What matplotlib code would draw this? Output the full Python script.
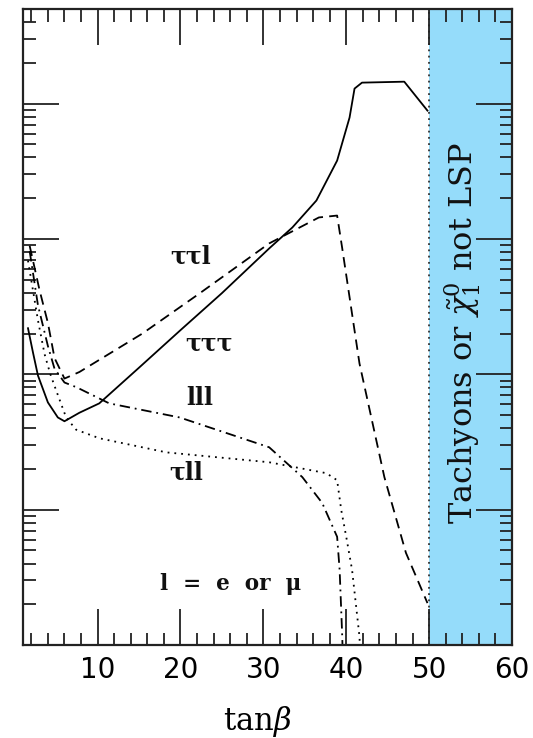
import matplotlib
matplotlib.use("Agg")
import matplotlib.pyplot as plt
from matplotlib.ticker import MultipleLocator, LogLocator, NullFormatter
import numpy as np

plt.rcParams['lines.scale_dashes'] = False
plt.rcParams['mathtext.fontset'] = 'dejavuserif'

# ---- data (tan beta, rate) ----
x_ttt = [1.6, 2.2, 2.8, 4.0, 5.2, 6.0, 7.8, 10.2, 15, 20, 25, 30.7, 33.5, 36.4, 38.9, 40.4, 41.0, 41.9, 47.0, 49.8]
y_ttt = [219, 145, 98, 62, 48, 45, 52, 61, 112, 212, 398, 851, 1216, 1923, 3793, 7889, 12912, 14289, 14521, 8872]

x_ttl = [1.8, 3.0, 4.0, 4.8, 6.0, 7.8, 15.4, 22.3, 30.7, 36.7, 38.9, 39.5, 41.6, 44.6, 47.2, 49.8]
y_ttl = [891, 417, 240, 132, 93, 104, 200, 396, 927, 1442, 1489, 865, 120, 17.4, 4.8, 2.04]

x_lll = [1.8, 2.8, 4.0, 4.8, 6.0, 7.5, 11.4, 19.9, 30.7, 34.7, 37.1, 38.9, 39.2, 39.5, 39.6]
y_lll = [813, 324, 162, 110, 87, 80, 61, 48, 28.9, 17.4, 11.2, 6.3, 3.6, 1.23, 0.79]

x_tll = [1.6, 2.8, 3.6, 4.3, 5.0, 6.2, 7.4, 10.2, 18.3, 30.7, 37.6, 38.9, 39.4, 40.0, 40.7, 41.6, 41.7]
y_tll = [692, 251, 141, 100, 76, 48, 39, 33.7, 26.5, 22.4, 18.6, 16.5, 9.9, 6.3, 3.6, 1.15, 0.79]

x_ticks = [10, 20, 30, 40, 50, 60]
excluded_x = [50, 60]

fig = plt.figure(figsize=(5.33, 7.38), dpi=100)
ax = fig.add_axes([0.0432, 0.126, 0.9174, 0.8618])

ax.axvspan(excluded_x[0], excluded_x[1], color='#95DCFA', zorder=0, lw=0)
ax.axvline(excluded_x[0], color='#333333', lw=1.3, ls=(0, (1.3, 3.2)), zorder=1)

lw = 1.3
ax.plot(x_ttt, y_ttt, color='black', lw=lw, ls='-')
ax.plot(x_ttl, y_ttl, color='black', lw=lw, ls=(0, (7.5, 4.5)))
ax.plot(x_lll, y_lll, color='black', lw=lw, ls=(0, (7.5, 3.5, 1.3, 3.5)))
ax.plot(x_tll, y_tll, color='black', lw=lw, ls=(0, (1.3, 3.6)))

ax.set_yscale('log')
ax.set_xlim(1, 60)
ax.set_ylim(1, 5e4)

ax.xaxis.set_major_locator(MultipleLocator(10))
ax.xaxis.set_minor_locator(MultipleLocator(2))
ax.set_xticks(x_ticks)
ax.yaxis.set_major_locator(LogLocator(base=10, numticks=20))
ax.yaxis.set_minor_locator(LogLocator(base=10, subs=np.arange(2, 10), numticks=20))
ax.yaxis.set_major_formatter(NullFormatter())
ax.yaxis.set_minor_formatter(NullFormatter())

ax.tick_params(which='both', direction='in', top=True, right=True, width=1.3, color='#222222')
ax.tick_params(which='major', length=26, labelsize=20, pad=8)
ax.tick_params(which='minor', length=9)
for lab in ax.get_xticklabels():
    lab.set_family('DejaVu Sans')
for sp in ax.spines.values():
    sp.set_linewidth(1.6)
    sp.set_color('#222222')

ax.set_xlabel(r'tan$\beta$', fontsize=22, family='DejaVu Serif')
ax.xaxis.set_label_coords(0.48, -0.092)

lab_kw = dict(family='DejaVu Serif', fontweight='bold', fontsize=17, ha='center', va='baseline', color='#111111')
ax.text(21.2, 10**2.819, 'ττl', **lab_kw)
ax.text(23.5, 10**2.177, 'τττ', **lab_kw)
ax.text(22.3, 10**1.771, 'lll', **lab_kw)
ax.text(20.7, 10**1.225, 'τll', **lab_kw)
ax.text(26.0, 10**0.406, 'l  =  e  or  μ', family='DejaVu Serif', fontweight='bold', fontsize=15.5,
        ha='center', va='baseline', color='#111111')

ax.text(54.0, 10**2.303, r'Tachyons or $\tilde{\chi}_1^0$ not LSP', family='DejaVu Serif',
        fontsize=23, rotation=90, ha='center', va='center', color='#111111')

fig.savefig('out.png', dpi=100)
